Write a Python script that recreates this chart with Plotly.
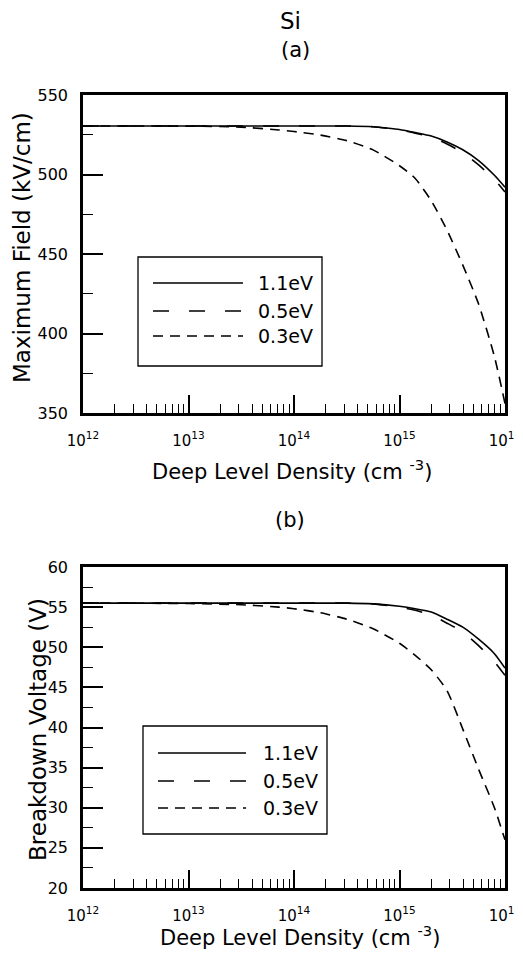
import plotly.graph_objects as go

# ---------------- data ----------------
density = [1e12, 1e13, 3.16e13, 7.2e13, 1e14, 1.78e14, 3.16e14, 5.62e14,
           1e15, 1.41e15, 2.0e15, 2.82e15, 3.98e15, 5.62e15, 7.94e15, 1e16]

field_11 = [530.5, 530.5, 530.5, 530.5, 530.5, 530.5, 530.5, 530.0,
            528.3, 526.4, 524.2, 520.5, 515.6, 508.8, 499.5, 492.0]
field_05 = [530.5, 530.5, 530.5, 530.5, 530.5, 530.5, 530.5, 530.0,
            528.0, 526.0, 523.4, 519.2, 513.7, 506.0, 496.8, 489.0]
field_03 = [530.5, 530.4, 529.8, 528.0, 527.0, 524.8, 521.3, 515.5,
            505.5, 497.5, 483.5, 465.0, 443.0, 418.5, 385.5, 356.0]

volt_11 = [55.5, 55.5, 55.5, 55.5, 55.5, 55.5, 55.5, 55.4,
           55.1, 54.8, 54.4, 53.5, 52.5, 51.0, 49.2, 47.4]
volt_05 = [55.5, 55.5, 55.5, 55.5, 55.5, 55.5, 55.5, 55.4,
           55.0, 54.6, 54.0, 53.0, 51.9, 50.2, 48.2, 46.5]
volt_03 = [55.5, 55.45, 55.3, 55.0, 54.8, 54.3, 53.5, 52.3,
           50.5, 49.0, 47.2, 44.6, 39.8, 34.8, 30.0, 26.0]

series_names = ["1.1eV", "0.5eV", "0.3eV"]
x_tickvals = [1e12, 1e13, 1e14, 1e15, 1e16]
x_ticktext = ["10<sup>12</sup>", "10<sup>13</sup>", "10<sup>14</sup>",
              "10<sup>15</sup>", "10<sup>16</sup>"]
x_minor = [m * 10 ** e for e in range(12, 16) for m in range(2, 10)]

# ---------------- styling ----------------
OFF = 8                          # default page body margin
W, H = 523 - OFF, 957 - 2 * OFF  # figure size so that the page does not overflow
FONT = "DejaVu Sans"
dashes = ["solid", "16px,20px", "10px,7px"]
LW = 1.6


def px(x):
    return (x - OFF) / W


def py(y):
    return 1 - (y - OFF) / H


fig = go.Figure()

top = [field_11, field_05, field_03]
bot = [volt_11, volt_05, volt_03]
for name, ys, d in zip(series_names, top, dashes):
    fig.add_trace(go.Scatter(x=density, y=ys, mode="lines", name=name,
                             line=dict(color="black", width=LW, dash=d, shape="spline", smoothing=0.6),
                             xaxis="x", yaxis="y", showlegend=False))
for name, ys, d in zip(series_names, bot, dashes):
    fig.add_trace(go.Scatter(x=density, y=ys, mode="lines", name=name,
                             line=dict(color="black", width=LW, dash=d, shape="spline", smoothing=0.6),
                             xaxis="x2", yaxis="y2", showlegend=False))

xdom = [px(83), px(505)]
xaxis_common = dict(type="log", range=[12, 16], domain=xdom, automargin=False,
                    tickmode="array", tickvals=x_tickvals, ticktext=x_ticktext,
                    ticks="inside", ticklen=18, tickwidth=1.5, tickcolor="black",
                    minor=dict(tickvals=x_minor, ticks="inside", ticklen=9, tickwidth=1.3,
                               tickcolor="black"),
                    showline=True, linewidth=2.5, linecolor="black", mirror=True,
                    showgrid=False, zeroline=False,
                    tickfont=dict(family=FONT, size=15, color="black"),
                    ticklabelstandoff=12)
yaxis_common = dict(ticks="inside", ticklen=20, tickwidth=1.6, tickcolor="black",
                    showline=True, linewidth=2.5, linecolor="black", mirror=True,
                    showgrid=False, zeroline=False, automargin=False,
                    tickfont=dict(family=FONT, size=16, color="black"),
                    ticklabelstandoff=9)

fig.update_layout(
    width=W, height=H, autosize=False,
    margin=dict(l=0, r=0, t=0, b=0, pad=0),
    paper_bgcolor="white", plot_bgcolor="white",
    xaxis=dict(**xaxis_common, anchor="y"),
    yaxis=dict(**yaxis_common, domain=[py(413), py(95)], range=[350, 550],
               tickmode="linear", tick0=350, dtick=50,
               minor=dict(dtick=25, tick0=350, ticks="inside", ticklen=10, tickwidth=1.4,
                          tickcolor="black"),
               anchor="x"),
    xaxis2=dict(**xaxis_common, anchor="y2"),
    yaxis2=dict(**yaxis_common, domain=[py(888), py(567)], range=[20, 60],
                tickmode="linear", tick0=20, dtick=5,
                minor=dict(dtick=2.5, tick0=20, ticks="inside", ticklen=10, tickwidth=1.4,
                           tickcolor="black"),
                anchor="x2"),
)

ann = []


def text(x, y, s, size, angle=0, xanchor="center"):
    ann.append(dict(x=px(x), y=py(y), xref="paper", yref="paper", text=s,
                    showarrow=False, textangle=angle, xanchor=xanchor, yanchor="middle",
                    font=dict(family=FONT, size=size, color="black")))


text(290, 21, "Si", 23)
text(295, 50, "(a)", 21)
text(290, 520, "(b)", 21)
text(292, 470, "Deep Level Density (cm <sup>-3</sup>)", 21)
text(300, 936, "Deep Level Density (cm <sup>-3</sup>)", 21)
text(22, 248, "Maximum Field (kV/cm)", 23, angle=-90)
text(38, 730, "Breakdown Voltage (V)", 23, angle=-90)

shapes = []


def legend(x0, y0, x1, y1, rows, lx0, lx1, tx):
    shapes.append(dict(type="rect", xref="paper", yref="paper",
                       x0=px(x0), x1=px(x1), y0=py(y1), y1=py(y0),
                       line=dict(color="black", width=1.3), fillcolor="white", layer="above"))
    for name, d, ry in zip(series_names, dashes, rows):
        shapes.append(dict(type="line", xref="paper", yref="paper",
                           x0=px(lx0), x1=px(lx1), y0=py(ry), y1=py(ry),
                           line=dict(color="black", width=LW, dash=d), layer="above"))
        text(tx, ry, name, 19, xanchor="left")


legend(138, 257, 322, 366, [283, 311, 336], 153, 243, 256)
legend(143, 726, 327, 834, [753, 781, 808], 158, 246, 261)

fig.update_layout(annotations=ann, shapes=shapes)
fig.write_html("out.html")
